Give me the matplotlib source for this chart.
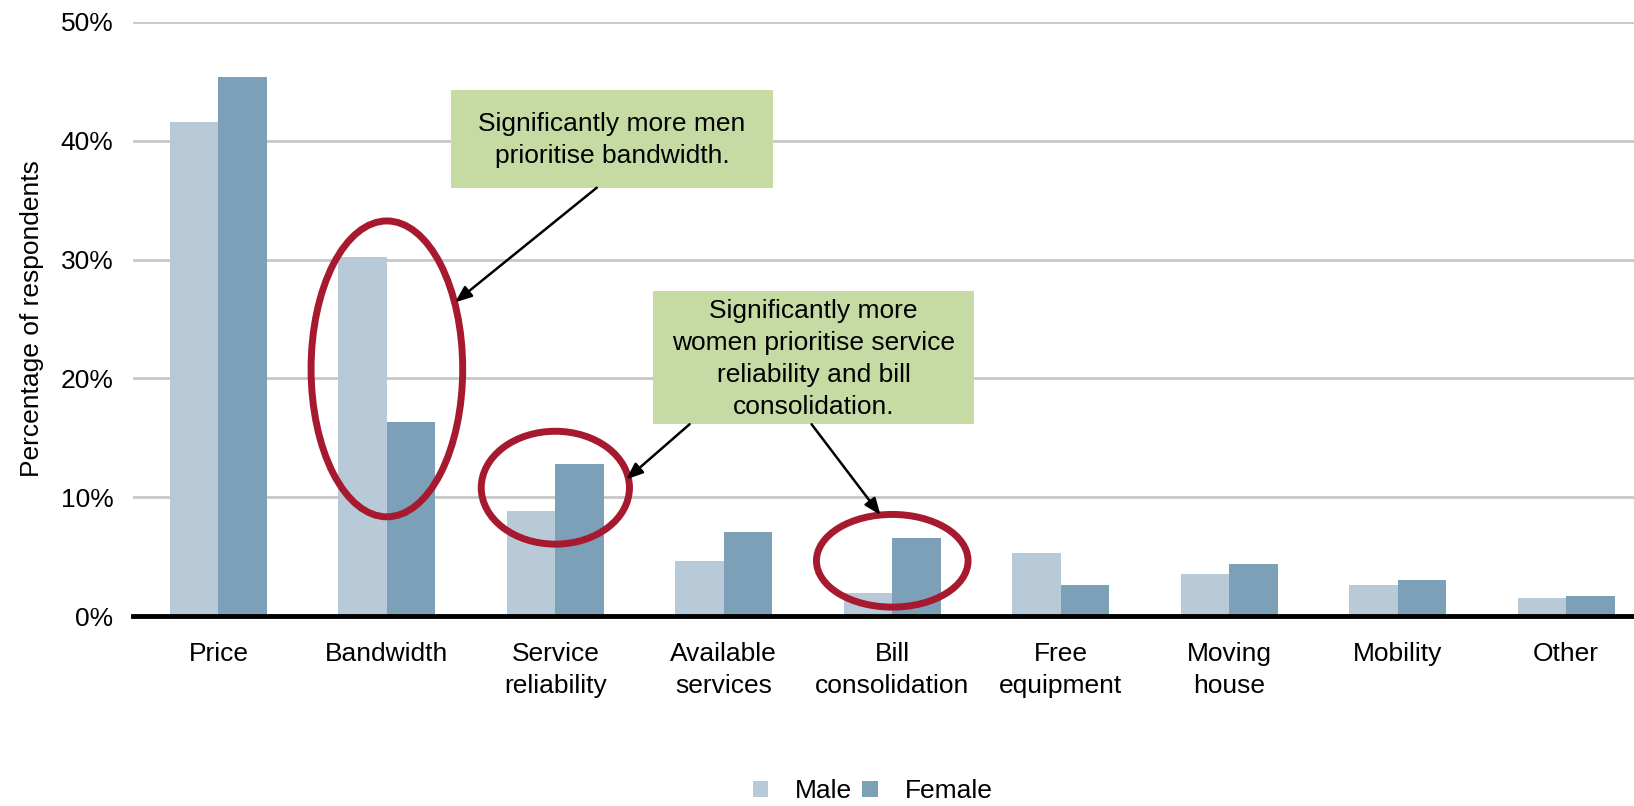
import matplotlib.pyplot as plt
import numpy as np
from matplotlib.patches import Ellipse, Rectangle
from matplotlib.ticker import FuncFormatter

plt.rcParams['font.family'] = ['Liberation Sans', 'DejaVu Sans']

# data
categories = ["Price", "Bandwidth", "Service\nreliability", "Available\nservices",
              "Bill\nconsolidation", "Free\nequipment", "Moving\nhouse", "Mobility", "Other"]
male = [41.6, 30.2, 8.8, 4.6, 1.9, 5.3, 3.5, 2.6, 1.5]
female = [45.4, 16.3, 12.8, 7.1, 6.6, 2.6, 4.4, 3.0, 1.7]

male_col = "#B8CAD8"
female_col = "#7BA0B8"
ring_col = "#A6192E"
box_col = "#C6DBA4"
fs = 19

fig = plt.figure(figsize=(16.34, 8.06), dpi=100)
ax = fig.add_axes([0.0814, 0.2357, 0.9186, 0.7371])

x = np.arange(len(categories))
w = 0.288
ax.bar(x - w / 2, male, w, color=male_col, label="Male", zorder=2)
ax.bar(x + w / 2, female, w, color=female_col, label="Female", zorder=2)

ax.set_xlim(-0.507, 8.403)
ax.set_ylim(0, 50)
ax.set_yticks(np.arange(0, 51, 10))
ax.yaxis.set_major_formatter(FuncFormatter(lambda v, p: "%d%%" % v))
ax.grid(axis="y", color="#C8C8C8", linewidth=2, zorder=0)
ax.axhline(0, color="black", linewidth=3.5, zorder=3, clip_on=False)
for s in ax.spines.values():
    s.set_visible(False)
ax.tick_params(axis="y", length=0, pad=14, labelsize=fs)
ax.tick_params(axis="x", length=0, pad=19, labelsize=fs)
ax.set_xticks(x)
ax.set_xticklabels(categories, linespacing=1.42, va="top")
ax.set_ylabel("Percentage of respondents", fontsize=fs, labelpad=12)

# rings
rings = [(1.0, 20.8, 0.9, 24.9), (2.0, 10.8, 0.88, 9.5), (4.0, 4.65, 0.9, 7.8)]
for cx, cy, ew, eh in rings:
    ax.add_patch(Ellipse((cx, cy), ew, eh, fill=False, edgecolor=ring_col,
                         linewidth=5, zorder=4))

# callout boxes
ax.add_patch(Rectangle((1.38, 36.05), 1.912, 8.25, facecolor=box_col,
                       edgecolor="none", zorder=5))
ax.text(2.336, 40.1, "Significantly more men\nprioritise bandwidth.", ha="center",
        va="center", fontsize=fs, linespacing=1.42, zorder=6)
ax.add_patch(Rectangle((2.58, 16.14), 1.906, 11.23, facecolor=box_col,
                       edgecolor="none", zorder=5))
ax.text(3.533, 21.6, "Significantly more\nwomen prioritise service\nreliability and bill\nconsolidation.",
        ha="center", va="center", fontsize=fs, linespacing=1.42, zorder=6)

arrows = [((2.246, 36.05), (1.405, 26.4)),
          ((2.797, 16.14), (2.421, 11.5)),
          ((3.521, 16.14), (3.93, 8.5))]
for start, end in arrows:
    ax.annotate("", xy=end, xytext=start, zorder=6,
                arrowprops=dict(arrowstyle="-|>,head_length=1.0,head_width=0.4",
                                color="black", lw=1.8, shrinkA=0, shrinkB=0))

fig.legend(loc="lower center", bbox_to_anchor=(0.534, -0.026), ncol=2, frameon=False,
           fontsize=fs, handlelength=0.6, handleheight=0.6, handletextpad=1.0,
           columnspacing=0.4)

fig.savefig("out.png", dpi=100)
